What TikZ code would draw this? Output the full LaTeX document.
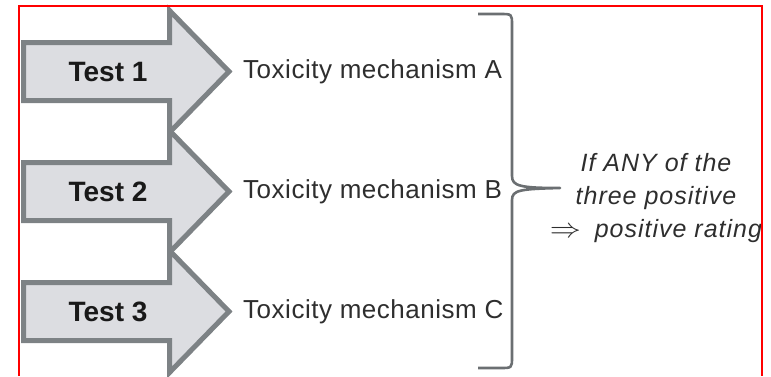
\documentclass[tikz,border=0pt]{standalone}
\usepackage{fontspec}
\setmainfont{Liberation Sans}
\newfontfamily\rulefont{Liberation Sans}[LetterSpace=4]
\newfontfamily\mechfont{Liberation Sans}[LetterSpace=2]
\definecolor{arrowfill}{HTML}{DCDDE1}
\definecolor{arrowline}{HTML}{7D8285}
\definecolor{bracegray}{HTML}{6B6F72}
\definecolor{labelgray}{HTML}{2E2E2E}
\tikzset{
  testarrow/.style={fill=arrowfill, draw=arrowline, line width=5pt, line join=miter},
  testlabel/.style={font=\fontsize{28}{32}\selectfont\bfseries, text=black!90, inner sep=0pt},
  mechlabel/.style={font=\fontsize{26}{30}\selectfont\mechfont, text=labelgray, anchor=west, inner sep=0pt},
  rulelabel/.style={font=\fontsize{25}{33}\selectfont\rulefont\itshape, text=labelgray, align=center, inner sep=0pt},
  bracestyle/.style={draw=bracegray, line width=2.6pt, line cap=butt, line join=round},
  frameline/.style={draw=red, line width=2pt}
}
\begin{document}
\begin{tikzpicture}[x=1pt,y=-1pt]
\useasboundingbox (0,0) rectangle (771,376);
% the three test arrows, drawn bottom to top
\foreach \c/\n/\l in {311.5/3/C, 191.5/2/B, 71.5/1/A}{
  \path[testarrow] (23.5,\c-29) -- (169.5,\c-29) -- (169.5,\c-61) -- (229,\c)
        -- (169.5,\c+61) -- (169.5,\c+29) -- (23.5,\c+29) -- cycle;
  \node[testlabel] (test\n) at (108,\c) {Test \n};
  \node[mechlabel] (mech\n) at (243,\c) {Toxicity mechanism \l};
}
% brace gathering the three mechanisms
\coordinate (bracetop) at (478,14);
\coordinate (bracebot) at (478,368);
\coordinate (bracetip) at (560,188);
\path[bracestyle] (bracetop) -- (500,14) .. controls (512,14) .. (512,25)
   -- (512,176) .. controls (512,186) and (520,188) .. (bracetip)
   .. controls (520,189) and (512,190) .. (512,200)
   -- (512,357) .. controls (512,368) .. (500,368) -- (bracebot);
% decision rule
\node[rulelabel] (rule) at (656,198) {If ANY of the\\three positive\\\scalebox{1.25}[1.1]{$\Rightarrow$}\hspace{0.55em}positive rating};
% frame
\path[frameline] (19,376) -- (19,6) -- (762,6) -- (762,376);
\end{tikzpicture}
\end{document}
